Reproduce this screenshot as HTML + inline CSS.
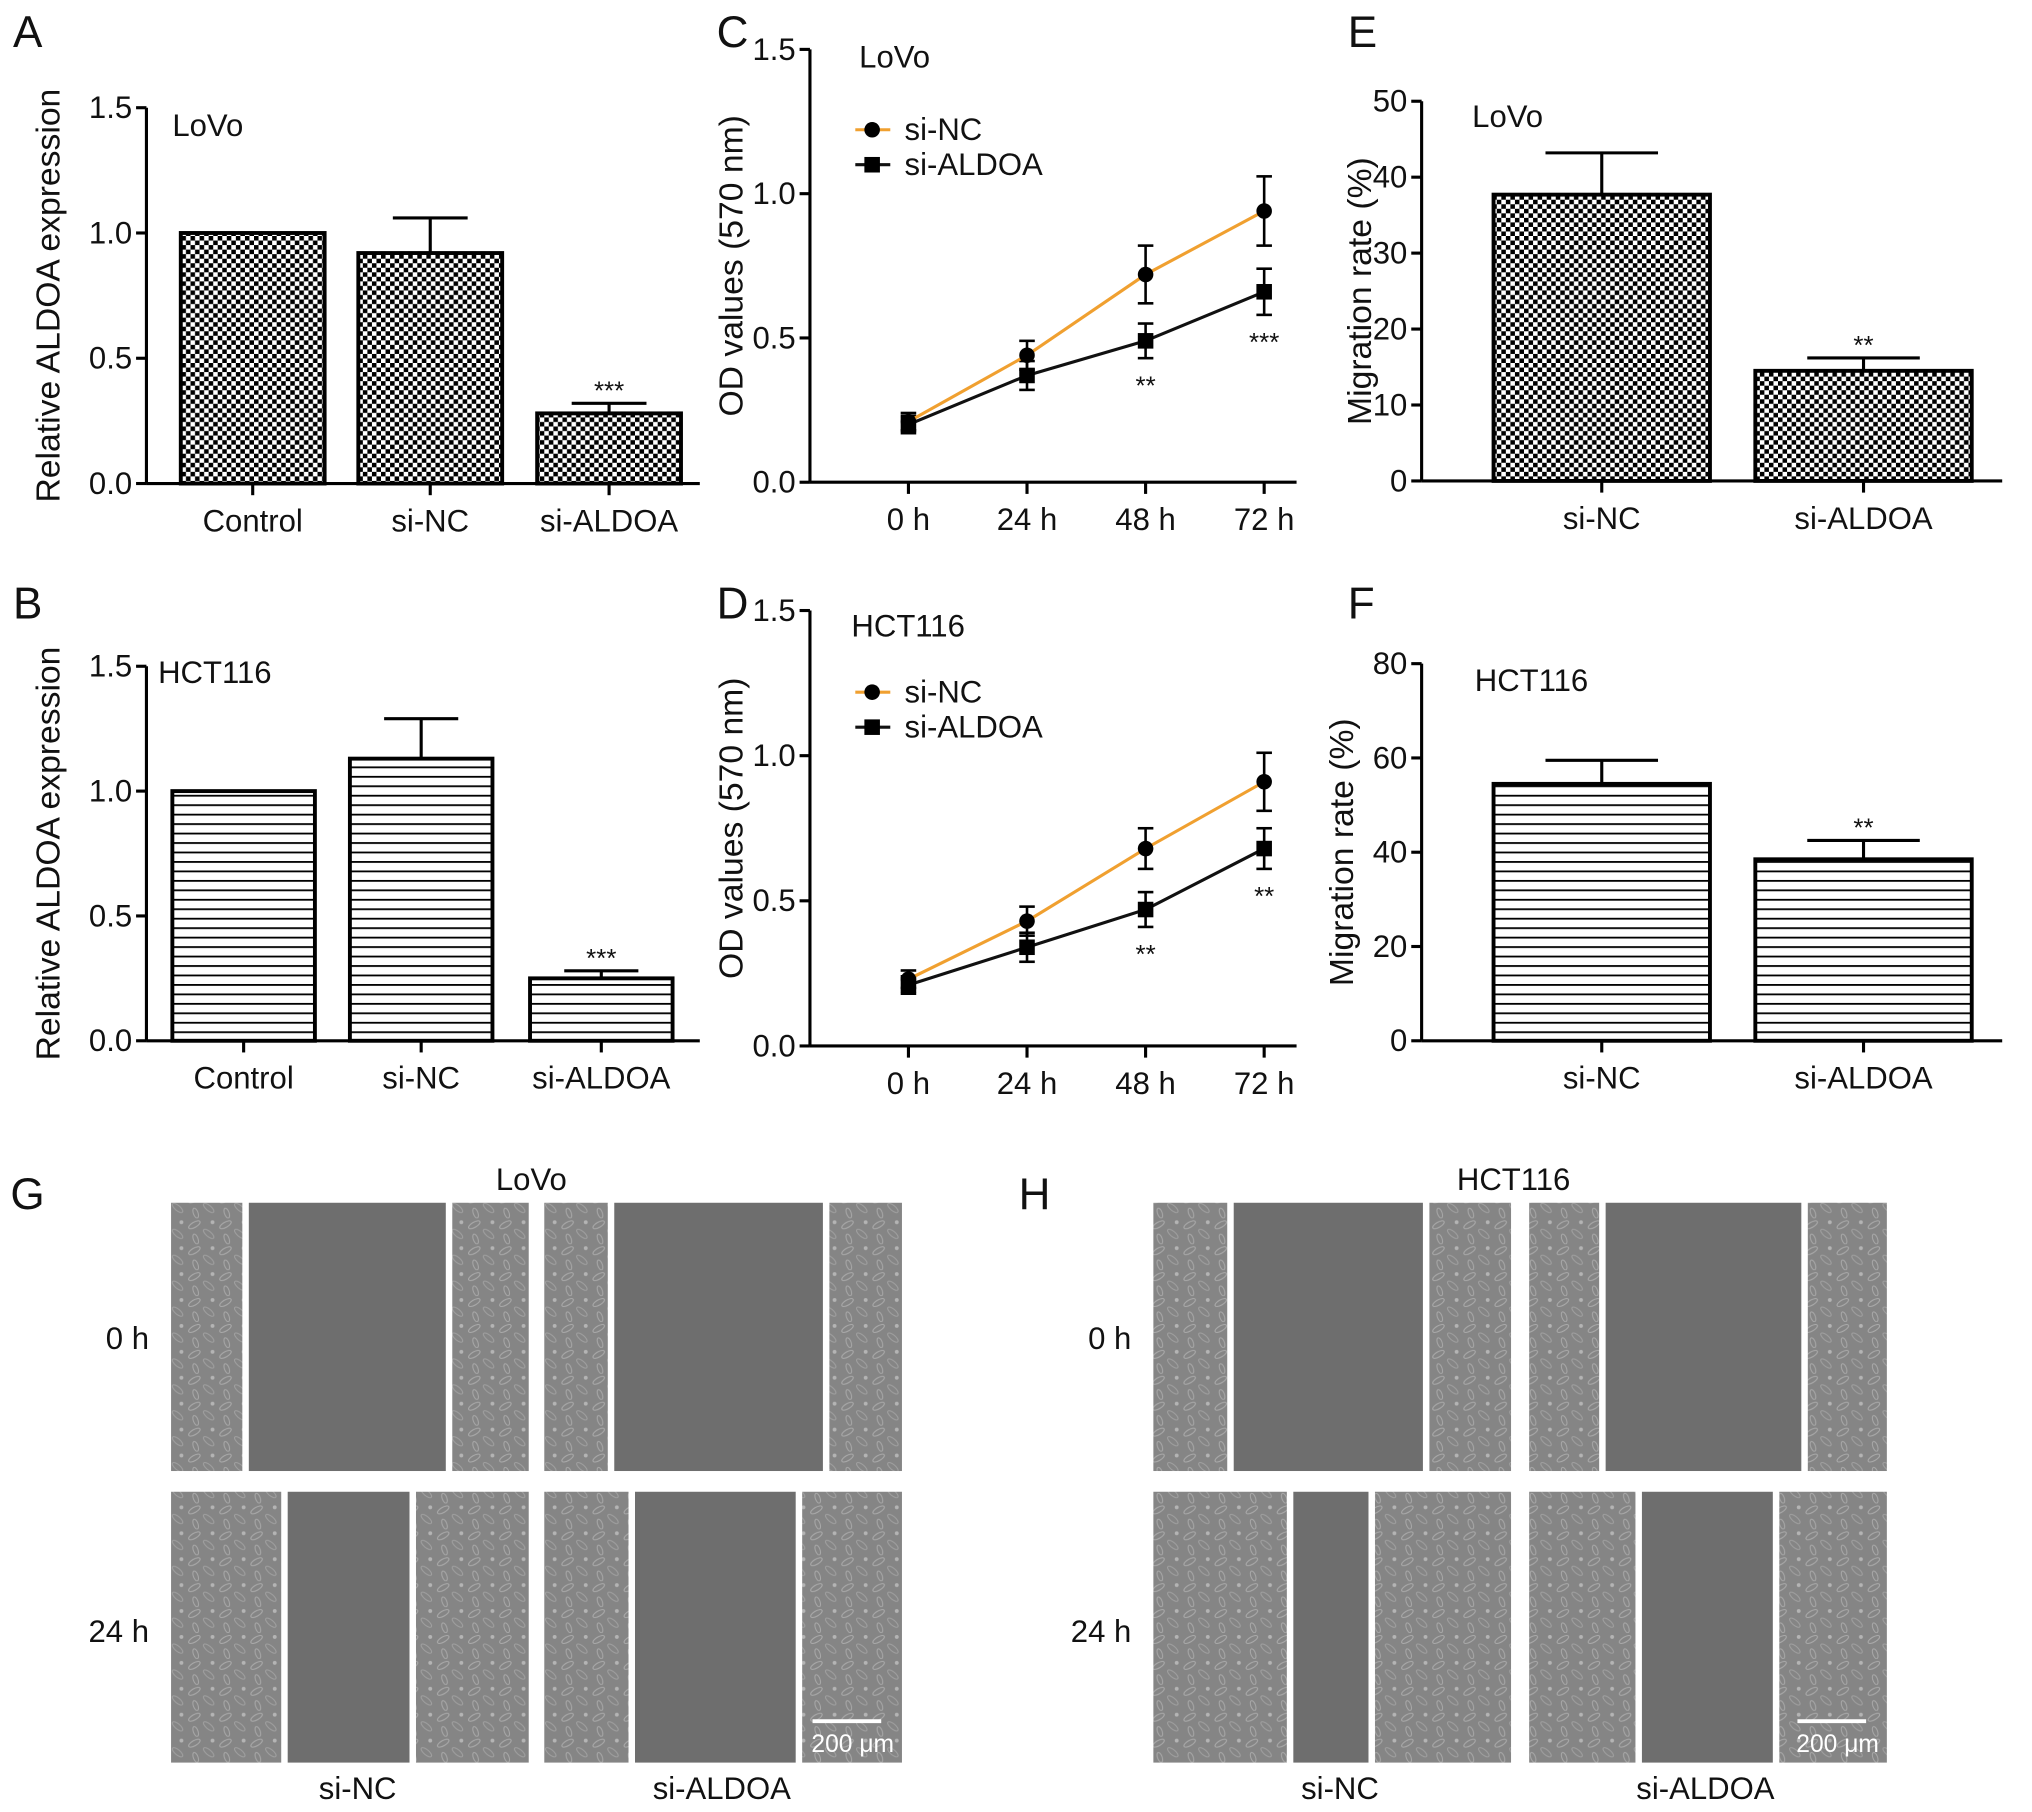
<!DOCTYPE html>
<html><head><meta charset="utf-8">
<style>
html,body{margin:0;padding:0;background:#fff;}
svg{display:block;font-family:"Liberation Sans",Arial,sans-serif;}
</style></head>
<body>
<svg id="fig" width="2032" height="1812" viewBox="0 0 1568 1398" xmlns="http://www.w3.org/2000/svg">
<defs>
<pattern id="checker" width="7" height="7" patternUnits="userSpaceOnUse">
<rect width="7" height="7" fill="#fff"/><rect width="3.5" height="3.5" fill="#000"/><rect x="3.5" y="3.5" width="3.5" height="3.5" fill="#000"/>
</pattern>
<pattern id="stripes" width="10" height="7.3" patternUnits="userSpaceOnUse">
<rect width="10" height="7.3" fill="#fff"/><rect y="0" width="10" height="1.4" fill="#000"/>
</pattern>
<pattern id="cells" width="24" height="20" patternUnits="userSpaceOnUse">
<rect width="24" height="20" fill="#858585"/>
<ellipse cx="6" cy="5" rx="5" ry="2" fill="none" stroke="#aaaaaa" stroke-width="0.8" transform="rotate(-30 6 5)"/>
<ellipse cx="17" cy="12" rx="5" ry="2" fill="none" stroke="#a0a0a0" stroke-width="0.8" transform="rotate(40 17 12)"/>
<ellipse cx="7" cy="16" rx="4" ry="1.8" fill="none" stroke="#a8a8a8" stroke-width="0.8" transform="rotate(70 7 16)"/>
<circle cx="20" cy="3" r="1.5" fill="#b4b4b4"/>
</pattern>
</defs>
<g id="root"></g>
</svg>
<script>
// ---- Panel A data ----
const aCats = ["Control","si-NC","si-ALDOA"];
const aVals = [1.0, 0.92, 0.28];
const aErrs = [0, 0.14, 0.04];
const aStars = ["","","***"];
// ---- Panel B data ----
const bCats = ["Control","si-NC","si-ALDOA"];
const bVals = [1.0, 1.13, 0.25];
const bErrs = [0, 0.16, 0.03];
const bStars = ["","","***"];
// ---- Panel E data ----
const eCats = ["si-NC","si-ALDOA"];
const eVals = [37.7, 14.5];
const eErrs = [5.5, 1.7];
const eStars = ["","**"];
// ---- Panel F data ----
const fCats = ["si-NC","si-ALDOA"];
const fVals = [54.5, 38.5];
const fErrs = [5.0, 4.0];
const fStars = ["","**"];
// ---- Panel C/D data ----
const timeCats = ["0 h","24 h","48 h","72 h"];
const cNC = [0.21, 0.44, 0.72, 0.94];
const cNCerr = [0.03, 0.05, 0.10, 0.12];
const cAL = [0.20, 0.37, 0.49, 0.66];
const cALerr = [0.03, 0.05, 0.06, 0.08];
const cStars = ["","","**","***"];
const dNC = [0.23, 0.43, 0.68, 0.91];
const dNCerr = [0.03, 0.05, 0.07, 0.10];
const dAL = [0.21, 0.34, 0.47, 0.68];
const dALerr = [0.03, 0.05, 0.06, 0.07];
const dStars = ["","","**","**"];
const odTicks = [0, 0.5, 1.0, 1.5];
const odTickLabels = ["0.0","0.5","1.0","1.5"];
const relTicks = [0, 0.5, 1.0, 1.5];
const relTickLabels = ["0.0","0.5","1.0","1.5"];
const eTicks = [0,10,20,30,40,50];
const fTicks = [0,20,40,60,80];

const NS = "http://www.w3.org/2000/svg";
const root = document.getElementById("root");
function mk(tag, attrs, parent){
  const e = document.createElementNS(NS, tag);
  for (const k in attrs) e.setAttribute(k, attrs[k]);
  (parent||root).appendChild(e);
  return e;
}
function txt(s, x, y, size, anchor, parent, extra){
  const t = mk("text", Object.assign({x:x, y:y, "font-size":size, "text-anchor":anchor||"start", fill:"#111"}, extra||{}), parent);
  t.textContent = s;
  return t;
}

function barChart(o){
  const g = mk("g", {});
  
  
  const y = v => o.y0 - (v - o.min) / (o.max - o.min) * (o.y0 - o.y1);
  const ax = mk("line", {x1:o.ax, y1:y(o.max), x2:o.ax, y2:o.y0, stroke:"#000","stroke-width":2.4}, g);
  
  
  o.ticks.forEach((t,i) => {
    mk("line", {x1:o.ax-8, y1:y(t), x2:o.ax, y2:y(t), stroke:"#000","stroke-width":2.4}, g);
    const l = txt(o.tickLabels[i], o.ax-11, y(t)+8, 24, "end", g);
    
    
  });
  const xa = mk("line", {x1:o.ax, y1:o.y0, x2:o.axEnd, y2:o.y0, stroke:"#000","stroke-width":2.4}, g);
  
  
  o.cats.forEach((c,i) => {
    const cx = o.centers[i], w = o.bw;
    const top = y(o.vals[i]);
    const b = mk("rect", {x:cx-w/2, y:top, width:w, height:o.y0-top, fill:"url(#"+o.pat+")", stroke:"#000","stroke-width":3}, g);
    
    
    if (o.errs[i] > 0) {
      const ye = y(o.vals[i] + o.errs[i]);
      mk("line", {x1:cx, y1:top, x2:cx, y2:ye, stroke:"#000","stroke-width":2.4}, g);
      const cap = mk("line", {x1:cx-w*0.26, y1:ye, x2:cx+w*0.26, y2:ye, stroke:"#000","stroke-width":2.4}, g);
      
      
      if (o.stars[i]) {
        const s = txt(o.stars[i], cx, ye-3, 20, "middle", g);
        
        
      }
    }
    mk("line", {x1:cx, y1:o.y0, x2:cx, y2:o.y0+9, stroke:"#000","stroke-width":2.4}, g);
    const l = txt(c, cx, o.y0+37, 24, "middle", g);
    
    
  });
  const tt = txt(o.ytitle, 0, 0, 26, "middle", g, {transform:"translate("+o.titleX+","+((o.y0+y(o.max))/2)+") rotate(-90)"});
  
  
  const cl = txt(o.cell, o.cellX, o.cellY, 24, "start", g);
  
  
}

function lineChart(o){
  const g = mk("g", {});
  
  
  const y = v => o.y0 - v / 1.5 * (o.y0 - o.y1);
  const x = i => o.xs0 + i * o.dx;
  mk("line", {x1:o.ax, y1:o.y1, x2:o.ax, y2:o.y0, stroke:"#000","stroke-width":2.4}, g);
  odTicks.forEach((t,i) => {
    mk("line", {x1:o.ax-8, y1:y(t), x2:o.ax, y2:y(t), stroke:"#000","stroke-width":2.4}, g);
    const l = txt(odTickLabels[i], o.ax-11, y(t)+8, 24, "end", g);
    
    
  });
  mk("line", {x1:o.ax, y1:o.y0, x2:x(3)+25, y2:o.y0, stroke:"#000","stroke-width":2.4}, g);
  timeCats.forEach((c,i) => {
    mk("line", {x1:x(i), y1:o.y0, x2:x(i), y2:o.y0+9, stroke:"#000","stroke-width":2.4}, g);
    const l = txt(c, x(i), o.y0+37, 24, "middle", g);
    
    
  });
  function series(vals, errs, color, marker, nm){
    const sg = mk("g", {}, g);
    
    
    vals.forEach((v,i) => {
      const ye1 = y(v + errs[i]), ye2 = y(v - errs[i]);
      mk("line", {x1:x(i), y1:ye1, x2:x(i), y2:ye2, stroke:"#000","stroke-width":2}, sg);
      mk("line", {x1:x(i)-6, y1:ye1, x2:x(i)+6, y2:ye1, stroke:"#000","stroke-width":2}, sg);
      mk("line", {x1:x(i)-6, y1:ye2, x2:x(i)+6, y2:ye2, stroke:"#000","stroke-width":2}, sg);
    });
    mk("polyline", {points: vals.map((v,i)=>x(i)+","+y(v)).join(" "), fill:"none", stroke:color, "stroke-width":2.4}, sg);
    vals.forEach((v,i) => {
      if (marker === "circle") mk("circle", {cx:x(i), cy:y(v), r:6, fill:"#000"}, sg);
      else mk("rect", {x:x(i)-6, y:y(v)-6, width:12, height:12, fill:"#000"}, sg);
    });
  }
  series(o.al, o.alErr, "#111", "square", "series-si-aldoa");
  series(o.nc, o.ncErr, "#f0a030", "circle", "series-si-nc");
  o.stars.forEach((s,i) => {
    if (!s) return;
    const t = txt(s, x(i), y(o.al[i] - o.alErr[i]) + 28, 20, "middle", g);
    
    
  });
  const lg = mk("g", {}, g);
  
  
  mk("line", {x1:o.lx, y1:o.ly, x2:o.lx+27, y2:o.ly, stroke:"#f0a030","stroke-width":2.4}, lg);
  mk("circle", {cx:o.lx+13, cy:o.ly, r:6, fill:"#000"}, lg);
  const l1 = txt("si-NC", o.lx+38, o.ly+8, 24, "start", lg);
  
  
  mk("line", {x1:o.lx, y1:o.ly+27, x2:o.lx+27, y2:o.ly+27, stroke:"#111","stroke-width":2.4}, lg);
  mk("rect", {x:o.lx+7, y:o.ly+21, width:12, height:12, fill:"#000"}, lg);
  const l2 = txt("si-ALDOA", o.lx+38, o.ly+35, 24, "start", lg);
  
  
  const tt = txt("OD values (570 nm)", 0, 0, 26, "middle", g, {transform:"translate("+o.titleX+","+((o.y0+o.y1)/2)+") rotate(-90)"});
  
  
  const cl = txt(o.cell, o.cellX, o.cellY, 24, "start", g);
  
  
}

barChart({name:"panel-a-chart", cats:aCats, vals:aVals, errs:aErrs, stars:aStars, ticks:relTicks, tickLabels:relTickLabels,
  min:0, max:1.5, ax:113, axEnd:540, y0:373, y1:83, centers:[195,332,470], bw:111, pat:"checker",
  ytitle:"Relative ALDOA expression", titleX:46, cell:"LoVo", cellX:133, cellY:105});
barChart({name:"panel-b-chart", cats:bCats, vals:bVals, errs:bErrs, stars:bStars, ticks:relTicks, tickLabels:relTickLabels,
  min:0, max:1.5, ax:113, axEnd:540, y0:803, y1:514, centers:[188,325,464], bw:110, pat:"stripes",
  ytitle:"Relative ALDOA expression", titleX:46, cell:"HCT116", cellX:122, cellY:527});
barChart({name:"panel-e-chart", cats:eCats, vals:eVals, errs:eErrs, stars:eStars, ticks:eTicks, tickLabels:eTicks.map(String),
  min:0, max:50, ax:1097, axEnd:1545, y0:371, y1:78, centers:[1236,1438], bw:167, pat:"checker",
  ytitle:"Migration rate (%)", titleX:1058, cell:"LoVo", cellX:1136, cellY:98});
barChart({name:"panel-f-chart", cats:fCats, vals:fVals, errs:fErrs, stars:fStars, ticks:fTicks, tickLabels:fTicks.map(String),
  min:0, max:80, ax:1097, axEnd:1545, y0:803, y1:512, centers:[1236,1438], bw:167, pat:"stripes",
  ytitle:"Migration rate (%)", titleX:1044, cell:"HCT116", cellX:1138, cellY:533});

lineChart({name:"panel-c-chart", nc:cNC, ncErr:cNCerr, al:cAL, alErr:cALerr, stars:cStars,
  ax:625, y0:372, y1:38, xs0:701, dx:91.5, lx:660, ly:100, titleX:573, cell:"LoVo", cellX:663, cellY:52});
lineChart({name:"panel-d-chart", nc:dNC, ncErr:dNCerr, al:dAL, alErr:dALerr, stars:dStars,
  ax:625, y0:807, y1:471, xs0:701, dx:91.5, lx:660, ly:534, titleX:573, cell:"HCT116", cellX:657, cellY:491});

[["A",10,36],["B",10,477],["C",553,36],["D",553,477],["E",1040,36],["F",1040,477],["G",8,933],["H",786,933]].forEach(p=>{
  const t = txt(p[0], p[1], p[2], 34, "start");
  
  
});

const rowsY = [[928,1135],[1151,1360]];
function micro(name, gx, row, a, b, bar){
  const g = mk("g", {});
  
  
  const [y1,y2] = rowsY[row];
  mk("rect", {x:gx, y:y1, width:a-gx, height:y2-y1, fill:"url(#cells)"}, g);
  mk("rect", {x:a+5, y:y1, width:b-a-5, height:y2-y1, fill:"#6e6e6e"}, g);
  mk("rect", {x:b+5, y:y1, width:gx+276-b-5, height:y2-y1, fill:"url(#cells)"}, g);
  if (bar) {
    mk("line", {x1:gx+207, y1:1328, x2:gx+260, y2:1328, stroke:"#fff","stroke-width":3}, g);
    const t = txt("200 μm", gx+238, 1352, 19, "middle", g, {fill:"#fff"});
    
    
  }
}
micro("g-sinc-0h",132,0,187,344,false);
micro("g-sialdoa-0h",420,0,469,635,false);
micro("g-sinc-24h",132,1,217,316,false);
micro("g-sialdoa-24h",420,1,485,614,true);
micro("h-sinc-0h",890,0,947,1098,false);
micro("h-sialdoa-0h",1180,0,1234,1390,false);
micro("h-sinc-24h",890,1,993,1056,false);
micro("h-sialdoa-24h",1180,1,1262,1368,true);

[["LoVo",410,918],["HCT116",1168,918],["0 h",115,1041],["24 h",115,1267],["0 h",873,1041],["24 h",873,1267],
 ["si-NC",276,1388],["si-ALDOA",557,1388],["si-NC",1034,1388],["si-ALDOA",1316,1388]].forEach(p=>{
  const anchor = (p[0]==="0 h"||p[0]==="24 h") ? "end" : "middle";
  const t = txt(p[0], p[1], p[2], 24, anchor);
  
  
});
</script>
</body></html>
